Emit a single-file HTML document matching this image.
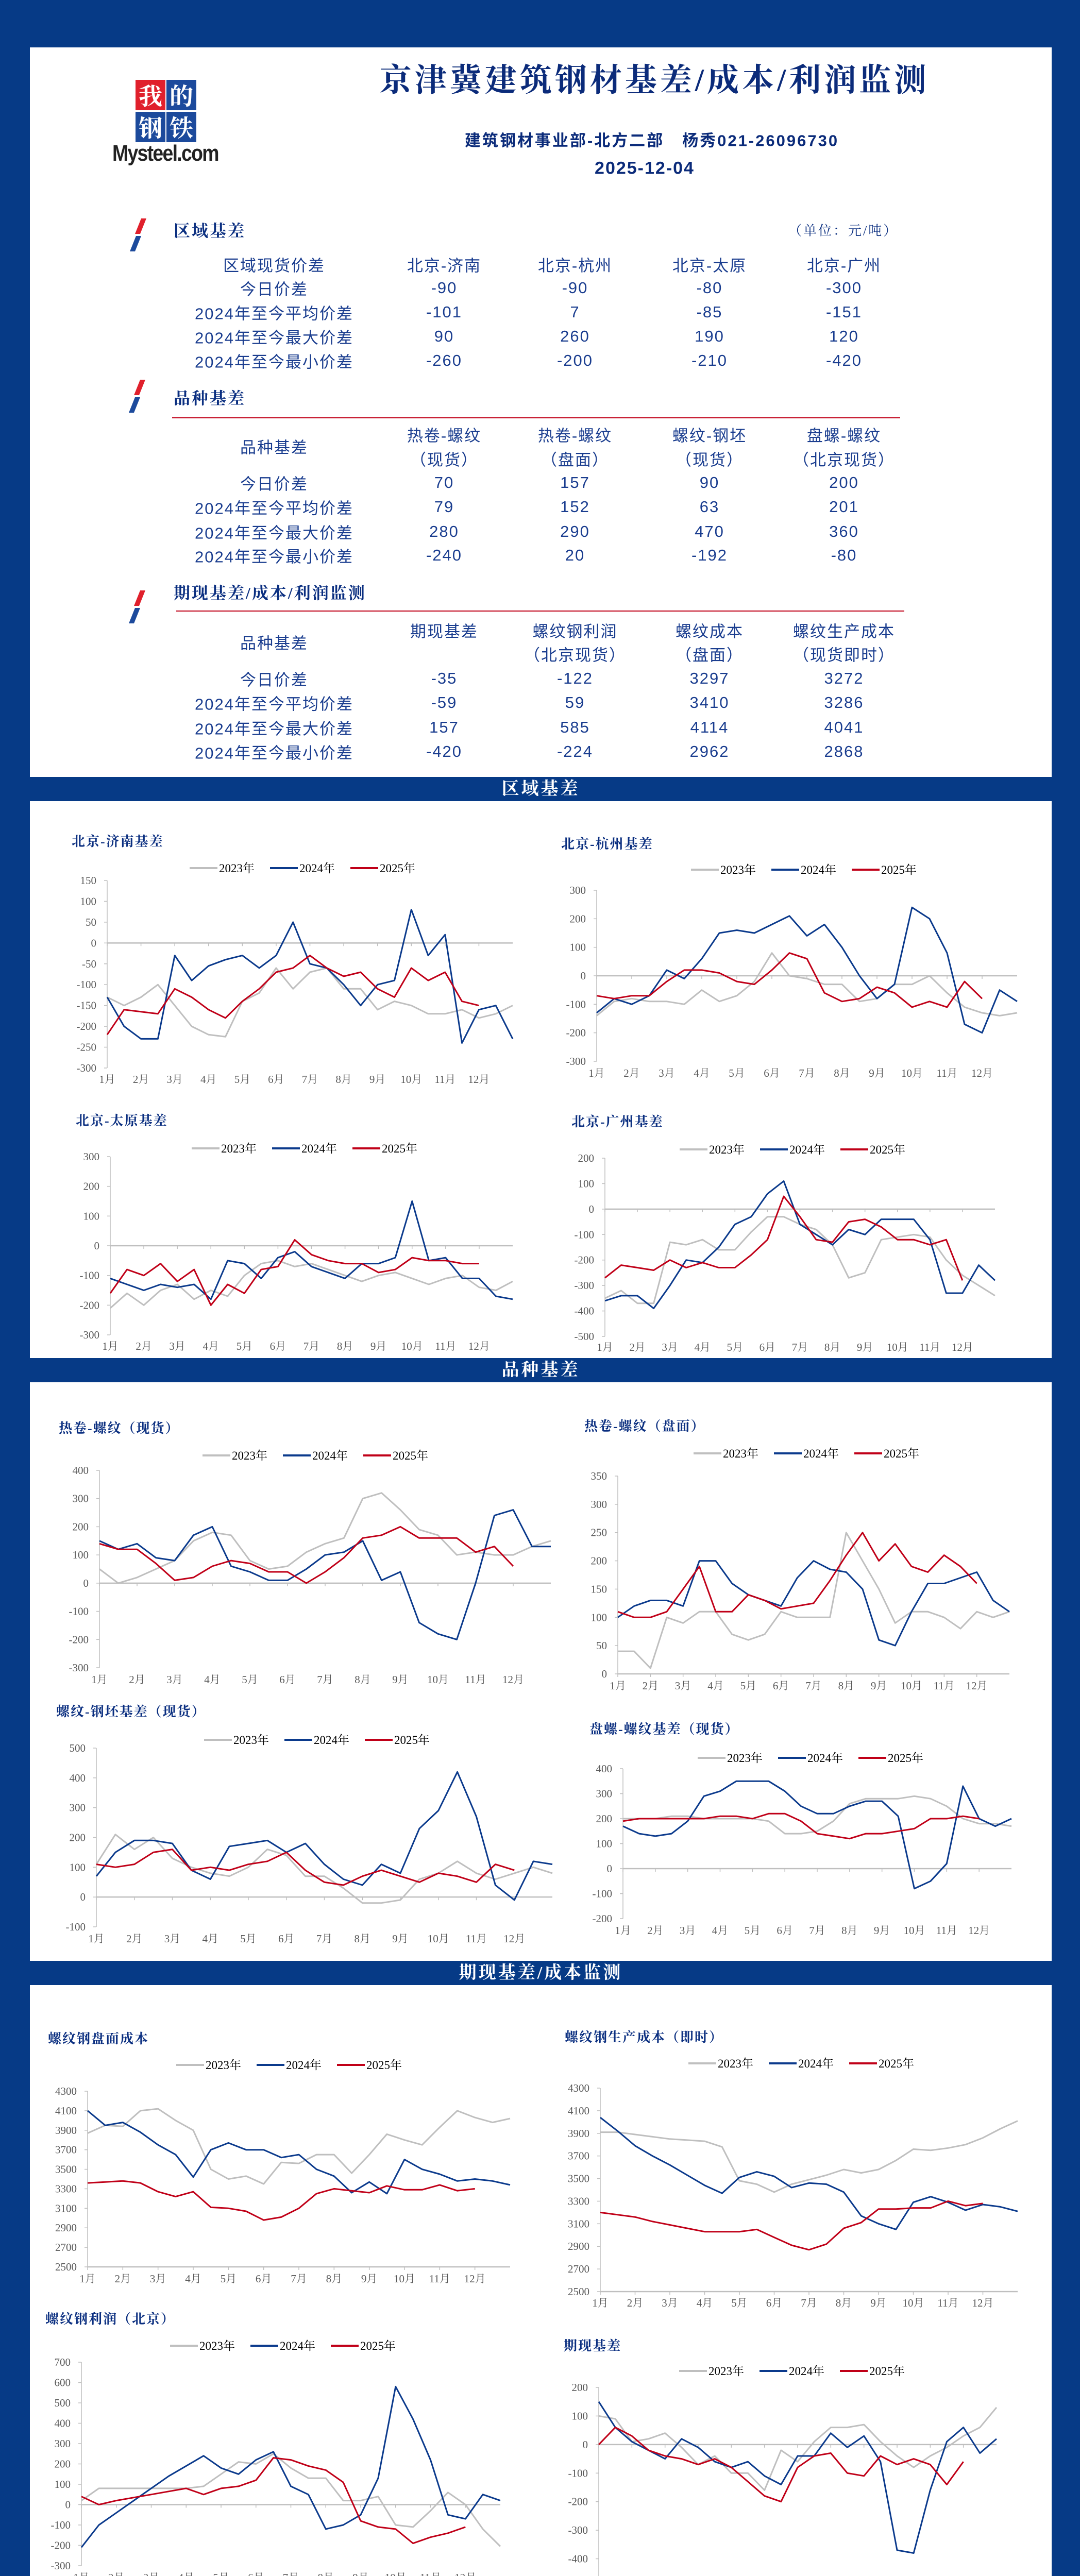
<!DOCTYPE html>
<html><head><meta charset="utf-8">
<style>
*{margin:0;padding:0;box-sizing:border-box}
html{width:2096px;height:5175px;overflow:hidden}
body{width:2096px;height:5175px;background:#063a86;position:relative;overflow:hidden;font-family:"Liberation Sans","Noto Sans CJK SC",sans-serif}
.panel{position:absolute;left:58px;width:1983px;background:#fff}
.bar{position:absolute;left:58px;width:1983px;color:#fff;text-align:center;font-family:"Liberation Serif","Noto Serif CJK SC",serif;font-size:34px;font-weight:bold;letter-spacing:4px;white-space:nowrap;overflow:hidden}
.t{position:absolute;transform:translate(-50%,-50%);white-space:nowrap;color:#1a3d8f;font-family:"Liberation Sans","Noto Sans CJK SC",sans-serif;font-size:31px;letter-spacing:2px}
.hd{position:absolute;transform:translateY(-50%);white-space:nowrap;color:#0b2f80;font-family:"Liberation Serif","Noto Serif CJK SC",serif;font-size:32px;font-weight:bold;letter-spacing:3px}
svg#charts{position:absolute;left:0;top:0;display:block}
</style></head>
<body>
<div class="panel" style="top:92px;height:1416px"></div>
<div class="bar" style="top:1508px;height:47px;line-height:47px">区域基差</div>
<div class="panel" style="top:1555px;height:1081px"></div>
<div class="bar" style="top:2636px;height:47px;line-height:47px">品种基差</div>
<div class="panel" style="top:2683px;height:1123px"></div>
<div class="bar" style="top:3806px;height:47px;line-height:47px">期现基差/成本监测</div>
<div class="panel" style="top:3853px;height:1228px"></div>
<div class="bar" style="top:5081px;height:94px;line-height:94px;font-size:38px;font-weight:normal;letter-spacing:3px">备注:以上成本、利润为理论测算值，因实际各钢厂成本、利润因素不相同，故仅做参考</div>

<div style="position:absolute;left:263px;top:155px;width:240px;height:180px">
  <div style="position:absolute;left:0;top:0;width:58px;height:59px;background:#e0202c;color:#fff;font:bold 46px 'Noto Serif CJK SC',serif;text-align:center;line-height:58px">我</div>
  <div style="position:absolute;left:60px;top:0;width:58px;height:59px;background:#1c4a9c;color:#fff;font:bold 46px 'Noto Serif CJK SC',serif;text-align:center;line-height:58px">的</div>
  <div style="position:absolute;left:0;top:62px;width:58px;height:59px;background:#1c4a9c;color:#fff;font:bold 46px 'Noto Serif CJK SC',serif;text-align:center;line-height:58px">钢</div>
  <div style="position:absolute;left:60px;top:62px;width:58px;height:59px;background:#1c4a9c;color:#fff;font:bold 46px 'Noto Serif CJK SC',serif;text-align:center;line-height:58px">铁</div>
  <div style="position:absolute;left:-45px;top:118px;font:bold 44px 'Liberation Sans',sans-serif;color:#222;letter-spacing:-2px;transform:scaleX(0.85);transform-origin:left;white-space:nowrap">Mysteel.com</div>
</div>

<div class="t" style="left:1270px;top:150px;font-size:62px;font-weight:bold;color:#0b2b7a;letter-spacing:6px;font-family:'Liberation Serif','Noto Serif CJK SC',serif">京津冀建筑钢材基差/成本/利润监测</div>
<div class="t" style="left:1265px;top:270px;font-size:31px;font-weight:bold;color:#0b2b7a;letter-spacing:3px">建筑钢材事业部-北方二部&nbsp;&nbsp; 杨秀021-26096730</div>
<div class="t" style="left:1251px;top:327px;font-size:34px;font-weight:bold;color:#0b2b7a">2025-12-04</div>

<svg style="position:absolute;left:250px;top:424px" width="50" height="66"><polygon points="24,0 34,0 22,30 12,30" fill="#e0202c"/><polygon points="14,34 24,34 12,64 2,64" fill="#1c4a9c"/></svg>
<svg style="position:absolute;left:248px;top:737px" width="50" height="66"><polygon points="24,0 34,0 22,30 12,30" fill="#e0202c"/><polygon points="14,34 24,34 12,64 2,64" fill="#1c4a9c"/></svg>
<svg style="position:absolute;left:248px;top:1146px" width="50" height="66"><polygon points="24,0 34,0 22,30 12,30" fill="#e0202c"/><polygon points="14,34 24,34 12,64 2,64" fill="#1c4a9c"/></svg>

<div class="hd" style="left:337px;top:446px">区域基差</div>
<div class="hd" style="left:1530px;top:446px;font-size:26px;font-weight:normal">（单位：元/吨）</div>
<div class="hd" style="left:337px;top:771px">品种基差</div>
<div style="position:absolute;left:334px;top:810px;width:1413px;height:2px;background:#c00018"></div>
<div class="hd" style="left:337px;top:1149px">期现基差/成本/利润监测</div>
<div style="position:absolute;left:342px;top:1185px;width:1413px;height:2px;background:#c00018"></div>

<div>
<div class="t" style="left:532px;top:513px">区域现货价差</div>
<div class="t" style="left:862px;top:513px">北京-济南</div><div class="t" style="left:1116px;top:513px">北京-杭州</div><div class="t" style="left:1377px;top:513px">北京-太原</div><div class="t" style="left:1638px;top:513px">北京-广州</div>
<div class="t" style="left:532px;top:559px">今日价差</div>
<div class="t" style="left:862px;top:559px">-90</div><div class="t" style="left:1116px;top:559px">-90</div><div class="t" style="left:1377px;top:559px">-80</div><div class="t" style="left:1638px;top:559px">-300</div>
<div class="t" style="left:532px;top:606px">2024年至今平均价差</div>
<div class="t" style="left:862px;top:606px">-101</div><div class="t" style="left:1116px;top:606px">7</div><div class="t" style="left:1377px;top:606px">-85</div><div class="t" style="left:1638px;top:606px">-151</div>
<div class="t" style="left:532px;top:653px">2024年至今最大价差</div>
<div class="t" style="left:862px;top:653px">90</div><div class="t" style="left:1116px;top:653px">260</div><div class="t" style="left:1377px;top:653px">190</div><div class="t" style="left:1638px;top:653px">120</div>
<div class="t" style="left:532px;top:700px">2024年至今最小价差</div>
<div class="t" style="left:862px;top:700px">-260</div><div class="t" style="left:1116px;top:700px">-200</div><div class="t" style="left:1377px;top:700px">-210</div><div class="t" style="left:1638px;top:700px">-420</div>
</div>
<div>
<div class="t" style="left:532px;top:866px">品种基差</div>
<div class="t" style="left:862px;top:843px">热卷-螺纹</div><div class="t" style="left:1116px;top:843px">热卷-螺纹</div><div class="t" style="left:1377px;top:843px">螺纹-钢坯</div><div class="t" style="left:1638px;top:843px">盘螺-螺纹</div>
<div class="t" style="left:862px;top:890px">（现货）</div><div class="t" style="left:1116px;top:890px">（盘面）</div><div class="t" style="left:1377px;top:890px">（现货）</div><div class="t" style="left:1638px;top:890px">（北京现货）</div>
<div class="t" style="left:532px;top:937px">今日价差</div>
<div class="t" style="left:862px;top:937px">70</div><div class="t" style="left:1116px;top:937px">157</div><div class="t" style="left:1377px;top:937px">90</div><div class="t" style="left:1638px;top:937px">200</div>
<div class="t" style="left:532px;top:984px">2024年至今平均价差</div>
<div class="t" style="left:862px;top:984px">79</div><div class="t" style="left:1116px;top:984px">152</div><div class="t" style="left:1377px;top:984px">63</div><div class="t" style="left:1638px;top:984px">201</div>
<div class="t" style="left:532px;top:1032px">2024年至今最大价差</div>
<div class="t" style="left:862px;top:1032px">280</div><div class="t" style="left:1116px;top:1032px">290</div><div class="t" style="left:1377px;top:1032px">470</div><div class="t" style="left:1638px;top:1032px">360</div>
<div class="t" style="left:532px;top:1078px">2024年至今最小价差</div>
<div class="t" style="left:862px;top:1078px">-240</div><div class="t" style="left:1116px;top:1078px">20</div><div class="t" style="left:1377px;top:1078px">-192</div><div class="t" style="left:1638px;top:1078px">-80</div>
</div>
<div>
<div class="t" style="left:532px;top:1246px">品种基差</div>
<div class="t" style="left:862px;top:1223px">期现基差</div><div class="t" style="left:1116px;top:1223px">螺纹钢利润</div><div class="t" style="left:1377px;top:1223px">螺纹成本</div><div class="t" style="left:1638px;top:1223px">螺纹生产成本</div>
<div class="t" style="left:1116px;top:1269px">（北京现货）</div><div class="t" style="left:1377px;top:1269px">（盘面）</div><div class="t" style="left:1638px;top:1269px">（现货即时）</div>
<div class="t" style="left:532px;top:1317px">今日价差</div>
<div class="t" style="left:862px;top:1317px">-35</div><div class="t" style="left:1116px;top:1317px">-122</div><div class="t" style="left:1377px;top:1317px">3297</div><div class="t" style="left:1638px;top:1317px">3272</div>
<div class="t" style="left:532px;top:1364px">2024年至今平均价差</div>
<div class="t" style="left:862px;top:1364px">-59</div><div class="t" style="left:1116px;top:1364px">59</div><div class="t" style="left:1377px;top:1364px">3410</div><div class="t" style="left:1638px;top:1364px">3286</div>
<div class="t" style="left:532px;top:1412px">2024年至今最大价差</div>
<div class="t" style="left:862px;top:1412px">157</div><div class="t" style="left:1116px;top:1412px">585</div><div class="t" style="left:1377px;top:1412px">4114</div><div class="t" style="left:1638px;top:1412px">4041</div>
<div class="t" style="left:532px;top:1459px">2024年至今最小价差</div>
<div class="t" style="left:862px;top:1459px">-420</div><div class="t" style="left:1116px;top:1459px">-224</div><div class="t" style="left:1377px;top:1459px">2962</div><div class="t" style="left:1638px;top:1459px">2868</div>
</div>

<svg id="charts" width="2096" height="5175" xmlns="http://www.w3.org/2000/svg"></svg>

<script>
const months=['1月','2月','3月','4月','5月','6月','7月','8月','9月','10月','11月','12月'];
const years=['2023年','2024年','2025年'];

const jnTicks=[150,100,50,0,-50,-100,-150,-200,-250,-300];
const jn2023=[-130,-150,-130,-100,-150,-200,-220,-225,-140,-120,-60,-110,-70,-60,-110,-110,-160,-140,-150,-170,-170,-160,-180,-170,-150];
const jn2024=[-130,-200,-230,-230,-30,-90,-55,-40,-30,-60,-30,50,-50,-60,-100,-150,-100,-90,80,-30,20,-240,-160,-150,-230];
const jn2025=[-220,-160,-165,-170,-110,-130,-160,-180,-140,-110,-70,-60,-30,-60,-80,-70,-110,-130,-60,-90,-70,-140,-150];

const hzTicks=[300,200,100,0,-100,-200,-300];
const hz2023=[-140,-90,-80,-90,-90,-100,-50,-90,-70,-20,80,0,-10,-30,-30,-90,-80,-30,-30,0,-60,-110,-130,-140,-130];
const hz2024=[-130,-80,-100,-70,20,-10,60,150,160,150,180,210,140,180,100,0,-80,-30,240,200,80,-170,-200,-50,-90];
const hz2025=[-70,-80,-70,-70,-20,20,20,10,-20,-30,20,80,60,-60,-90,-80,-40,-60,-110,-90,-110,-20,-80];

const tyTicks=[300,200,100,0,-100,-200,-300];
const ty2023=[-210,-160,-200,-150,-130,-180,-150,-170,-100,-60,-50,-70,-60,-80,-100,-120,-100,-90,-110,-130,-110,-100,-140,-150,-120];
const ty2024=[-110,-130,-150,-130,-140,-130,-180,-50,-60,-110,-40,-20,-70,-90,-110,-60,-60,-40,150,-50,-40,-110,-110,-170,-180];
const ty2025=[-160,-80,-100,-60,-120,-80,-200,-130,-160,-80,-70,20,-30,-50,-60,-60,-90,-80,-40,-50,-50,-60,-60];

const gzTicks=[200,100,0,-100,-200,-300,-400,-500];
const gz2023=[-350,-320,-370,-370,-130,-140,-120,-160,-160,-90,-30,-30,-60,-80,-140,-270,-250,-120,-110,-100,-110,-200,-260,-300,-340];
const gz2024=[-360,-340,-340,-390,-300,-200,-210,-150,-60,-30,60,110,-60,-100,-140,-80,-100,-40,-40,-40,-120,-330,-330,-220,-280];
const gz2025=[-270,-220,-230,-240,-200,-230,-210,-230,-230,-180,-120,50,-30,-120,-130,-50,-40,-70,-120,-120,-140,-120,-280];

const rcTicks=[400,300,200,100,0,-100,-200,-300];
const rc2023=[50,0,20,50,80,150,180,170,80,50,60,110,140,160,300,320,260,190,170,100,110,100,100,130,150];
const rc2024=[150,120,140,90,80,170,200,60,40,10,10,50,100,110,150,10,40,-140,-180,-200,0,240,260,130,130];
const rc2025=[140,120,120,70,10,20,60,80,70,40,40,0,40,90,160,170,200,160,160,160,110,130,60];

const rbTicks=[500,400,300,200,100,0,-100];
const rb2023=[110,210,160,200,130,100,80,70,100,160,140,70,70,30,-20,-20,-10,60,80,120,80,60,80,100,80];
const rb2024=[70,150,190,190,180,90,60,170,180,190,150,180,110,60,40,110,80,230,290,420,270,40,-10,120,110];
const rb2025=[110,100,110,150,160,90,100,90,110,120,150,90,50,40,70,90,70,50,80,70,50,110,90];

const pmTicks=[350,300,250,200,150,100,50,0];
const pm2023=[40,40,10,100,90,110,110,70,60,70,110,100,100,100,250,200,150,90,110,110,100,80,110,100,110];
const pm2024=[100,120,130,130,120,200,200,160,140,130,120,170,200,185,180,150,60,50,110,160,160,170,180,130,110];
const pm2025=[110,100,100,110,150,190,110,110,140,130,115,120,125,165,210,250,200,230,190,180,210,190,160];

const plTicks=[400,300,200,100,0,-100,-200];
const pl2023=[200,200,200,210,210,200,200,200,200,190,140,140,150,190,260,280,280,280,290,280,250,200,180,180,170];
const pl2024=[170,140,130,140,190,290,310,350,350,350,310,250,220,220,250,270,270,210,-80,-50,20,330,200,170,200];
const pl2025=[190,200,200,200,200,200,210,210,200,220,220,190,140,130,120,140,140,150,160,200,200,210,200];

const cbTicks=[4300,4100,3900,3700,3500,3300,3100,2900,2700,2500];
const cb2023=[3870,3950,3940,4100,4120,4000,3900,3500,3400,3430,3350,3570,3560,3650,3650,3460,3650,3860,3800,3750,3930,4100,4030,3980,4020];
const cb2024=[4100,3950,3980,3880,3750,3650,3420,3700,3770,3700,3700,3620,3650,3500,3430,3260,3370,3250,3600,3500,3450,3380,3400,3380,3340];
const cb2025=[3360,3370,3380,3360,3270,3220,3270,3110,3100,3070,2980,3010,3100,3250,3300,3280,3260,3330,3290,3290,3340,3280,3300];

const lrTicks=[700,600,500,400,300,200,100,0,-100,-200,-300];
const lr2023=[20,80,80,80,80,80,80,90,150,210,200,250,180,130,130,20,20,40,-100,-110,-30,60,0,-120,-205];
const lr2024=[-210,-100,-40,20,80,140,190,240,180,150,220,260,90,50,-120,-100,-50,130,580,420,220,-50,-70,50,20];
const lr2025=[40,0,20,35,50,65,80,50,80,90,120,230,220,190,170,110,-80,-110,-120,-190,-160,-140,-110];

const scTicks=[4300,4100,3900,3700,3500,3300,3100,2900,2700,2500];
const sc2023=[3910,3910,3890,3870,3850,3840,3830,3780,3480,3450,3380,3450,3490,3530,3580,3550,3580,3660,3760,3750,3770,3800,3860,3940,4010];
const sc2024=[4040,3920,3790,3700,3620,3530,3440,3370,3510,3560,3520,3420,3460,3450,3380,3170,3100,3050,3290,3340,3290,3220,3270,3250,3210];
const sc2025=[3200,3180,3160,3120,3090,3060,3030,3030,3030,3050,2980,2910,2870,2920,3060,3110,3230,3230,3240,3240,3300,3260,3280];

const qxTicks=[200,100,0,-100,-200,-300,-400,-500];
const qx2023=[100,90,10,20,40,-10,-70,-40,-100,-100,-160,-20,-60,10,60,60,70,10,-40,-80,-40,-10,30,60,130];
const qx2024=[150,60,10,-20,-50,20,-10,-60,-80,-60,-110,-140,-40,-40,40,-10,30,-60,-370,-380,-160,10,60,-30,20];
const qx2025=[0,60,30,-20,-40,-50,-70,-50,-80,-130,-180,-200,-80,-40,-30,-100,-110,-40,-70,-50,-70,-140,-60];

const NS='http://www.w3.org/2000/svg';
const root=document.getElementById('charts');
const COLORS=['#bfbfbf','#0b3a8c','#c00018'];
function el(tag,parent){const e=document.createElementNS(NS,tag);parent.appendChild(e);return e;}

function chart(key,title,g,ticks,series){
  const grp=el('g',root);
  
  
  const vmax=ticks[0],vmin=ticks[ticks.length-1];
  const ys=v=>g.top+(vmax-v)/(vmax-vmin)*(g.bot-g.top);
  const mw=(g.r-g.l)/12;
  const xs=i=>g.l+i*mw/2;
  const tt=el('text',grp);
  
  
  tt.setAttribute('x',g.tx);tt.setAttribute('y',g.ty+9);
  tt.setAttribute('font-family','"Liberation Serif","Noto Serif CJK SC",serif');
  tt.setAttribute('font-size','26');tt.setAttribute('font-weight','bold');tt.setAttribute('fill','#0b2f80');tt.setAttribute('letter-spacing','2');
  tt.textContent=title;
  for(let k=0;k<3;k++){
    const lx=g.lx+k*156;
    const ll=el('line',grp);
    
    
    ll.setAttribute('x1',lx);ll.setAttribute('x2',lx+54);ll.setAttribute('y1',g.ly);ll.setAttribute('y2',g.ly);
    ll.setAttribute('stroke',COLORS[k]);ll.setAttribute('stroke-width','4');
    const lt=el('text',grp);
    
    
    lt.setAttribute('x',lx+57);lt.setAttribute('y',g.ly+8);
    lt.setAttribute('font-family','"Liberation Serif","Noto Serif CJK SC",serif');lt.setAttribute('font-size','23');lt.setAttribute('fill','#000');
    lt.textContent=years[k];
  }
  const ya=el('line',grp);
  
  
  ya.setAttribute('x1',g.l);ya.setAttribute('x2',g.l);ya.setAttribute('y1',g.top);ya.setAttribute('y2',g.bot);
  ya.setAttribute('stroke','#bfbfbf');ya.setAttribute('stroke-width','1.5');
  ticks.forEach(v=>{
    const tk=el('line',grp);
    
    
    tk.setAttribute('x1',g.l-6);tk.setAttribute('x2',g.l);tk.setAttribute('y1',ys(v));tk.setAttribute('y2',ys(v));
    tk.setAttribute('stroke','#bfbfbf');tk.setAttribute('stroke-width','1.5');
    const tl=el('text',grp);
    
    
    tl.setAttribute('x',g.l-21);tl.setAttribute('y',ys(v)+7);tl.setAttribute('text-anchor','end');
    tl.setAttribute('font-family','"Liberation Serif",serif');tl.setAttribute('font-size','21');tl.setAttribute('fill','#595959');
    tl.textContent=String(v);
  });
  const zy=(vmin<0&&vmax>0)?ys(0):g.bot;
  const xa=el('line',grp);
  
  
  xa.setAttribute('x1',g.l);xa.setAttribute('x2',g.r);xa.setAttribute('y1',zy);xa.setAttribute('y2',zy);
  xa.setAttribute('stroke','#bfbfbf');xa.setAttribute('stroke-width','2.5');
  months.forEach((m,i)=>{
    const mt=el('line',grp);
    
    
    mt.setAttribute('x1',xs(i*2));mt.setAttribute('x2',xs(i*2));mt.setAttribute('y1',zy);mt.setAttribute('y2',zy+6);
    mt.setAttribute('stroke','#bfbfbf');mt.setAttribute('stroke-width','1.5');
    const ml=el('text',grp);
    
    
    ml.setAttribute('x',xs(i*2));ml.setAttribute('y',g.my+7);ml.setAttribute('text-anchor','middle');
    ml.setAttribute('font-family','"Liberation Serif","Noto Serif CJK SC",serif');ml.setAttribute('font-size','21');ml.setAttribute('fill','#595959');
    ml.textContent=m;
  });
  series.forEach((arr,k)=>{
    const p=el('polyline',grp);
    
    
    p.setAttribute('points',arr.map((v,i)=>xs(i).toFixed(1)+','+ys(v).toFixed(1)).join(' '));
    p.setAttribute('fill','none');p.setAttribute('stroke',COLORS[k]);p.setAttribute('stroke-width','3');p.setAttribute('stroke-linejoin','round');
  });
}

chart('beijing-jinan','北京-济南基差',{l:208,r:995,top:1709,bot:2073,tx:139,ty:1633,lx:368,ly:1685,my:2095},jnTicks,[jn2023,jn2024,jn2025]);
chart('beijing-hangzhou','北京-杭州基差',{l:1158,r:1974,top:1728,bot:2060,tx:1089,ty:1638,lx:1341,ly:1688,my:2083},hzTicks,[hz2023,hz2024,hz2025]);
chart('beijing-taiyuan','北京-太原基差',{l:214,r:995,top:2245,bot:2591,tx:147,ty:2175,lx:372,ly:2229,my:2613},tyTicks,[ty2023,ty2024,ty2025]);
chart('beijing-guangzhou','北京-广州基差',{l:1174,r:1931,top:2248,bot:2594,tx:1109,ty:2177,lx:1319,ly:2231,my:2615},gzTicks,[gz2023,gz2024,gz2025]);
chart('hrc-rebar-spot','热卷-螺纹（现货）',{l:193,r:1069,top:2854,bot:3237,tx:114,ty:2772,lx:393,ly:2825,my:3260},rcTicks,[rc2023,rc2024,rc2025]);
chart('rebar-billet','螺纹-钢坯基差（现货）',{l:187,r:1072,top:3393,bot:3740,tx:109,ty:3322,lx:396,ly:3377,my:3763},rbTicks,[rb2023,rb2024,rb2025]);
chart('hrc-rebar-futures','热卷-螺纹（盘面）',{l:1199,r:1959,top:2865,bot:3249,tx:1134,ty:2768,lx:1346,ly:2821,my:3272},pmTicks,[pm2023,pm2024,pm2025]);
chart('wire-rebar','盘螺-螺纹基差（现货）',{l:1209,r:1963,top:3433,bot:3724,tx:1144,ty:3356,lx:1354,ly:3412,my:3747},plTicks,[pl2023,pl2024,pl2025]);
chart('rebar-futures-cost','螺纹钢盘面成本',{l:170,r:990,top:4059,bot:4400,tx:93,ty:3957,lx:342,ly:4008,my:4423},cbTicks,[cb2023,cb2024,cb2025]);
chart('rebar-profit','螺纹钢利润（北京）',{l:158,r:971,top:4585,bot:4980,tx:88,ty:4501,lx:330,ly:4553,my:5003},lrTicks,[lr2023,lr2024,lr2025]);
chart('rebar-production-cost','螺纹钢生产成本（即时）',{l:1165,r:1975,top:4053,bot:4448,tx:1096,ty:3954,lx:1336,ly:4005,my:4470},scTicks,[sc2023,sc2024,sc2025]);
chart('futures-spot-basis','期现基差',{l:1162,r:1934,top:4634,bot:5022,tx:1094,ty:4553,lx:1318,ly:4602,my:5045},qxTicks,[qx2023,qx2024,qx2025]);
</script>
</body></html>
